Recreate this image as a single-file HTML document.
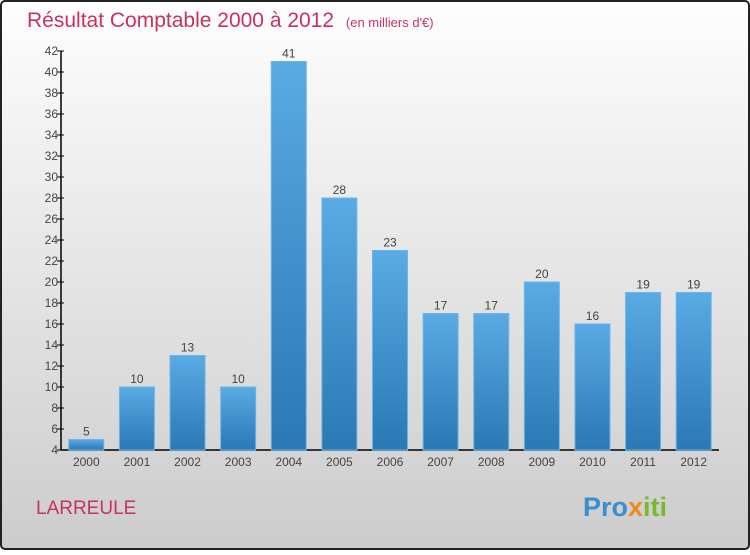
<!DOCTYPE html>
<html><head><meta charset="utf-8"><style>
html,body{margin:0;padding:0}
body{width:750px;height:550px;overflow:hidden;font-family:"Liberation Sans",sans-serif}
</style></head><body>
<svg width="750" height="550" xmlns="http://www.w3.org/2000/svg">
<defs>
<linearGradient id="bg" x1="0" y1="0" x2="0" y2="1"><stop offset="0" stop-color="#fefefe"/><stop offset="1" stop-color="#cccccc"/></linearGradient>
<linearGradient id="bar" x1="0" y1="0" x2="0" y2="1"><stop offset="0" stop-color="#5aaae4"/><stop offset="1" stop-color="#2a78b4"/></linearGradient>
</defs>
<rect x="1" y="1" width="748" height="548" rx="4" fill="url(#bg)" stroke="#222" stroke-width="2"/>
<text x="27" y="27" font-size="21" fill="#c8325e">Résultat Comptable 2000 à 2012 <tspan font-size="13" dx="6">(en milliers d'€)</tspan></text>
<g id="axes"></g><g id="bars"></g>
<text x="36" y="514" font-size="19" fill="#c8325e">LARREULE</text>
<text x="583" y="516" font-size="27" font-weight="bold"><tspan fill="#3a8fd0">Pro</tspan><tspan fill="#f08a1c">x</tspan><tspan fill="#7ab830">iti</tspan></text>
</svg>
<script>
const categories=["2000","2001","2002","2003","2004","2005","2006","2007","2008","2009","2010","2011","2012"];
const values=[5,10,13,10,41,28,23,17,17,20,16,19,19];
const yTicks=[4,6,8,10,12,14,16,18,20,22,24,26,28,30,32,34,36,38,40,42];
const NS="http://www.w3.org/2000/svg";
const x0=61,x1=719,yMin=4,yMax=42,yB=450,yT=51;
const y=v=>yB-(v-yMin)*(yB-yT)/(yMax-yMin);
const band=(x1-x0)/categories.length;
const xc=i=>x0+band*(i+0.5);
function mk(t,a,p){const e=document.createElementNS(NS,t);for(const k in a)e.setAttribute(k,a[k]);p.appendChild(e);return e;}
const ax=document.getElementById('axes'),bs=document.getElementById('bars');
let l=mk('line',{x1:x0,y1:yT,x2:x0,y2:yB,stroke:'#000','stroke-width':1.5},ax);


l=mk('line',{x1:x0,y1:yB,x2:x1,y2:yB,stroke:'#000','stroke-width':1.5},ax);


yTicks.forEach(v=>{
 const tk=mk('line',{x1:x0-4,y1:y(v),x2:x0+3,y2:y(v),stroke:'#000'},ax);
 
 
 const t=mk('text',{x:x0-3,y:y(v)+4,'text-anchor':'end','font-size':12,fill:'#444'},ax);
 t.textContent=v;
 
 
});
categories.forEach((c,i)=>{
 const v=values[i],w=35;
 const r=mk('rect',{x:xc(i)-w/2,y:y(v),width:w,height:yB-y(v),fill:'url(#bar)',stroke:'#6ab6ec','stroke-width':1},bs);
 
 
 const t=mk('text',{x:xc(i),y:y(v)-4,'text-anchor':'middle','font-size':12,fill:'#444'},bs);
 t.textContent=v;
 
 
 const xl=mk('text',{x:xc(i),y:466,'text-anchor':'middle','font-size':12,fill:'#444'},bs);
 xl.textContent=c;
 
 
});
</script>
</body></html>
